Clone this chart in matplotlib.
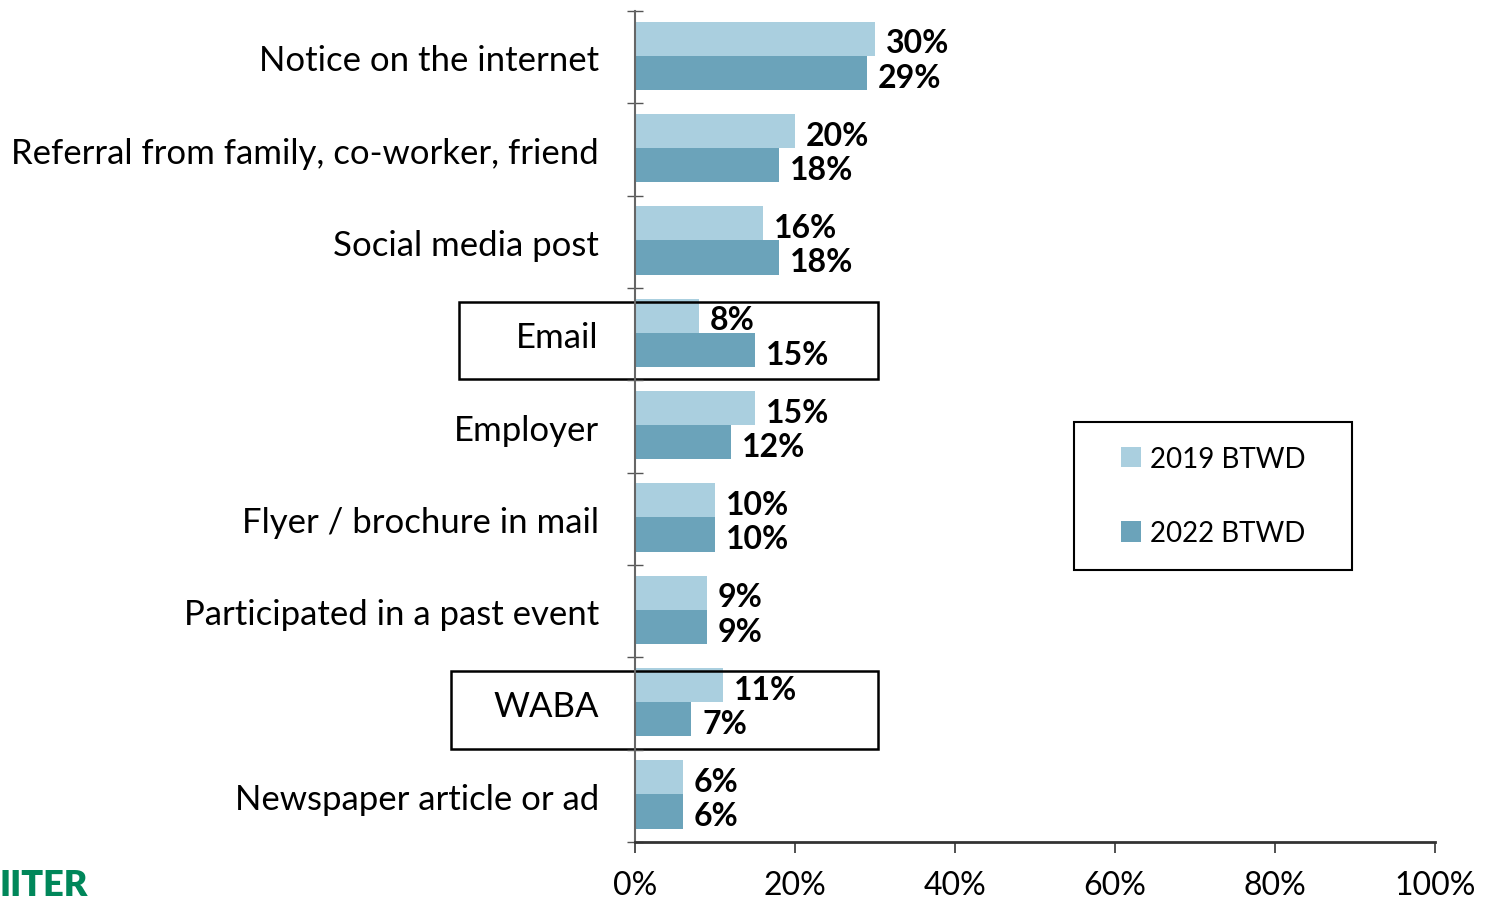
import matplotlib
matplotlib.use('Agg')
import matplotlib.pyplot as plt
from matplotlib.patches import Rectangle
import numpy as np

categories = ["Notice on the internet", "Referral from family, co-worker, friend",
              "Social media post", "Email", "Employer", "Flyer / brochure in mail",
              "Participated in a past event", "WABA", "Newspaper article or ad"]
vals_2019 = [30, 20, 16, 8, 15, 10, 9, 11, 6]
vals_2022 = [29, 18, 18, 15, 12, 10, 9, 7, 6]
series_names = ["2019 BTWD", "2022 BTWD"]
xticks = [0, 20, 40, 60, 80, 100]
boxed = ["Email", "WABA"]

light = "#aacfdf"
dark = "#6ba3ba"

plt.rcParams['font.family'] = ['Lato', 'DejaVu Sans']

fig = plt.figure(figsize=(14.93, 9.04), dpi=100)
ax = fig.add_axes([0.4253, 0.0675, 0.5358, 0.9192])

y = np.arange(len(categories))
h = 0.37
b1 = ax.barh(y - 0.2, vals_2019, height=h, color=light, label=series_names[0])
b2 = ax.barh(y + 0.17, vals_2022, height=h, color=dark, label=series_names[1])

for bars, vals in ((b1, vals_2019), (b2, vals_2022)):
    for bar, v in zip(bars, vals):
        ax.annotate(f"{v}%", (v, bar.get_y() + bar.get_height() / 2),
                    xytext=(8, -3), textcoords="offset points",
                    ha="left", va="center", fontsize=23, fontweight="bold")

ax.set_xlim(0, 100)
ax.set_ylim(len(categories) - 0.5, -0.5)
ax.set_xticks(xticks)
ax.set_xticklabels([f"{t}%" for t in xticks], fontsize=23)
ax.tick_params(axis='x', length=8, width=1.2, pad=12, color="#333333")
ax.set_yticks(y)
ax.set_yticklabels(categories, fontsize=25)
ax.tick_params(axis='y', which='major', length=0, pad=26)
ax.set_yticks(np.arange(len(categories) + 1) - 0.5, minor=True)
ax.tick_params(axis='y', which='minor', length=12, width=1, direction='inout', color="#555555")

for s in ("top", "right"):
    ax.spines[s].set_visible(False)
ax.spines["left"].set_color("#666666")
ax.spines["left"].set_linewidth(1.5)
ax.spines["bottom"].set_color("#333333")
ax.spines["bottom"].set_linewidth(2)

# highlight boxes around Email and WABA
for name in boxed:
    i = categories.index(name)
    x0 = -22 if name == "Email" else -23
    ax.add_patch(Rectangle((x0, i - 0.35), 30.4 - x0, 0.84, fill=False,
                           edgecolor="black", linewidth=1.8, clip_on=False))

# legend with a hand drawn frame (wider than tall padding)
leg = ax.legend(loc="center", bbox_to_anchor=(0.7225, 0.4164), fontsize=20,
                frameon=False, handlelength=0.75, handleheight=0.75,
                handletextpad=0.3, labelspacing=1.75, borderpad=0, borderaxespad=0)
ax.add_patch(Rectangle((0.549, 0.3273), 0.3475, 0.1781, transform=ax.transAxes,
                       fill=False, edgecolor="black", linewidth=1.5, clip_on=False))

fig.text(0.0, 0.002, "IITER", color="#00875a", fontsize=26, fontweight="heavy",
         ha="left", va="bottom")

fig.savefig("out.png", dpi=100)
